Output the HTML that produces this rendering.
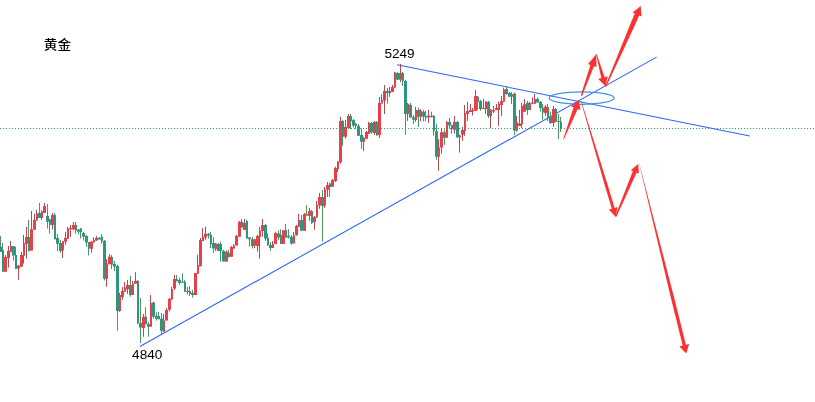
<!DOCTYPE html>
<html><head><meta charset="utf-8"><title>黄金</title>
<style>html,body{margin:0;padding:0;background:#fff;}body{width:815px;height:402px;overflow:hidden;}svg{display:block;}</style>
</head><body>
<svg width="815" height="402" viewBox="0 0 815 402">
<rect width="815" height="402" fill="#fff"/>
<g stroke="#2962ff" stroke-width="1.05" stroke-linecap="butt"><line x1="139.9" y1="346.5" x2="656.6" y2="57.1"/><line x1="397" y1="64.7" x2="749.7" y2="136.1"/></g>
<path d="M5.5 255.0V271.7M8.5 246.0V267.6M10.5 241.0V252.0M18.5 265.0V279.8M21.5 251.8V266.7M23.5 235.0V263.6M26.5 227.0V258.6M31.5 211.0V250.5M34.5 213.7V229.8M36.5 209.9V220.5M41.5 210.2V219.9M44.5 203.0V213.0M52.5 213.0V229.6M62.5 241.0V258.0M65.5 232.0V244.7M67.5 227.0V238.7M70.5 224.9V236.8M73.5 222.0V229.6M91.5 241.0V252.7M93.5 237.2V242.5M96.5 236.0V240.6M106.5 259.2V286.8M109.5 254.2V264.2M119.5 293.0V311.8M122.5 287.0V299.8M124.5 282.0V291.7M127.5 280.0V293.9M132.5 281.0V294.9M135.5 272.2V283.7M143.5 314.0V336.7M150.5 295.0V326.7M163.5 313.9V331.7M166.5 308.0V320.5M169.5 298.0V311.4M171.5 287.0V299.6M174.5 275.0V290.0M187.5 287.0V294.2M195.5 272.9V294.9M197.5 254.8V273.7M200.5 238.0V266.2M202.5 228.0V240.9M205.5 226.8V239.9M215.5 243.0V251.0M226.5 250.4V261.6M231.5 246.0V256.7M233.5 244.2V248.6M236.5 234.9V245.5M239.5 221.0V236.8M244.5 219.0V229.9M254.5 239.0V248.0M257.5 234.9V251.7M259.5 226.8V258.8M262.5 219.0V236.8M272.5 241.0V248.0M275.5 231.8V243.9M283.5 230.2V243.9M293.5 232.0V243.5M296.5 225.0V235.8M298.5 213.9V226.7M304.5 213.0V230.8M309.5 207.8V220.9M314.5 216.0V229.8M316.5 201.0V217.6M319.5 192.9V208.7M324.5 187.0V207.8M327.5 182.0V197.0M332.5 179.0V186.7M335.5 166.8V182.0M337.5 161.0V172.0M340.5 116.8V163.7M345.5 119.9V138.8M348.5 114.0V128.0M363.5 137.0V151.0M366.5 131.0V138.8M368.5 122.0V134.0M374.5 120.9V135.0M379.5 97.0V138.0M381.5 94.2V103.5M384.5 84.9V114.0M389.5 87.0V96.7M392.5 84.9V92.0M394.5 71.8V87.6M400.5 64.0V82.0M407.5 103.0V120.9M415.5 106.9V121.8M420.5 109.0V121.3M428.5 109.9V122.9M438.5 139.3V170.8M441.5 127.9V153.6M446.5 121.0V137.7M454.5 116.0V133.5M459.5 134.7V152.6M462.5 127.0V140.9M464.5 104.9V135.9M467.5 101.8V121.0M470.5 103.9V112.0M472.5 108.0V115.5M475.5 90.0V110.9M483.5 98.9V109.0M485.5 100.9V113.9M490.5 109.0V127.9M493.5 105.9V113.0M496.5 103.9V110.0M498.5 101.8V125.8M501.5 96.0V115.8M503.5 87.7V101.8M511.5 92.2V103.9M516.5 116.0V131.6M519.5 109.9V126.0M521.5 103.0V127.9M524.5 98.9V111.7M529.5 102.0V109.9M532.5 97.4V103.7M534.5 94.0V103.7M545.5 104.9V115.8M553.5 105.9V126.7" stroke="#b04a55" stroke-width="1.0" fill="none"/>
<path d="M0.5 236.0V252.0M2.5 243.0V271.7M13.5 246.0V260.5M15.5 247.0V269.0M28.5 219.9V251.2M39.5 203.0V218.0M47.5 204.0V228.6M49.5 219.0V233.6M54.5 213.0V239.4M57.5 234.0V251.0M60.5 240.0V252.7M75.5 222.0V233.6M78.5 229.0V234.5M80.5 228.0V238.5M83.5 232.0V240.6M86.5 234.8V246.8M88.5 242.0V255.5M99.5 237.0V239.4M101.5 234.0V243.7M104.5 239.9V280.5M111.5 255.0V269.0M114.5 261.0V270.8M117.5 264.8V330.8M130.5 276.0V296.7M137.5 279.9V323.6M140.5 298.0V342.9M145.5 307.2V324.3M148.5 322.0V336.7M153.5 301.7V318.7M156.5 312.4V320.5M158.5 311.8V319.3M161.5 313.0V334.2M176.5 275.0V281.2M179.5 277.8V284.9M182.5 273.7V282.8M184.5 279.9V291.7M189.5 286.0V296.0M192.5 289.9V297.6M208.5 233.0V238.6M210.5 231.8V248.0M213.5 237.0V252.9M218.5 243.0V251.0M220.5 241.7V261.6M223.5 249.8V261.6M228.5 249.8V257.3M241.5 219.0V227.4M246.5 220.0V238.6M249.5 237.0V246.7M252.5 237.0V248.6M265.5 224.0V240.9M267.5 233.4V245.5M270.5 242.0V250.8M278.5 230.5V239.9M280.5 229.3V243.9M285.5 224.0V237.4M288.5 229.3V238.6M291.5 235.0V244.8M301.5 215.0V230.8M306.5 205.0V215.5M311.5 209.9V223.9M322.5 190.0V241.6M329.5 182.6V197.0M342.5 119.9V145.8M350.5 114.0V129.0M353.5 119.0V127.4M355.5 123.0V129.0M358.5 124.0V135.8M361.5 128.6V148.8M371.5 122.0V133.9M376.5 121.0V135.5M387.5 88.0V103.5M397.5 71.8V79.7M402.5 71.8V85.9M405.5 80.0V134.9M410.5 102.9V118.0M413.5 115.0V123.9M418.5 107.7V127.0M423.5 109.9V121.3M425.5 110.9V121.0M431.5 111.7V117.6M433.5 115.0V135.6M436.5 123.8V159.8M444.5 129.8V144.9M449.5 118.0V128.8M451.5 124.8V133.8M457.5 121.0V138.0M477.5 96.0V109.9M480.5 100.0V110.9M488.5 100.9V118.0M506.5 86.2V95.0M509.5 92.0V96.8M514.5 92.7V135.0M527.5 100.9V114.9M537.5 97.4V102.4M540.5 100.9V111.7M542.5 103.9V119.8M547.5 103.9V121.0M550.5 111.7V123.8M555.5 108.0V121.7M558.5 113.9V139.0M560.5 117.0V132.0" stroke="#4f9560" stroke-width="1.0" fill="none"/>
<path d="M4 257.0H7V271.7H4zM7 251.0H10V258.0H7zM10 246.0H12V252.0H10zM17 265.5H20V268.6H17zM20 255.0H23V266.7H20zM23 243.0H25V255.8H23zM25 237.0H28V243.7H25zM30 229.2H33V250.5H30zM33 219.9H36V229.8H33zM36 213.4H38V220.5H36zM41 211.2H43V218.0H41zM43 206.0H46V213.0H43zM51 214.9H54V224.9H51zM62 241.0H64V250.5H62zM64 238.0H67V241.8H64zM67 228.6H69V238.7H67zM69 228.0H72V229.2H69zM72 224.9H75V229.6H72zM90 241.8H93V248.7H90zM93 240.0H95V242.5H93zM95 238.0H98V240.6H95zM106 263.6H108V278.7H106zM108 256.7H111V264.2H108zM119 294.9H121V310.9H119zM121 291.0H124V297.0H121zM124 287.4H126V291.7H124zM126 284.9H129V289.3H126zM132 283.7H134V294.9H132zM134 280.9H137V283.7H134zM142 316.8H145V328.0H142zM150 303.0H152V326.7H150zM163 320.5H165V331.7H163zM165 310.0H168V320.5H165zM168 298.8H171V309.7H168zM171 288.9H173V299.6H171zM173 278.9H176V288.6H173zM186 290.9H189V292.0H186zM194 273.0H197V294.9H194zM197 265.0H199V273.7H197zM199 239.9H202V266.2H199zM202 236.8H204V240.9H202zM204 233.7H207V237.4H204zM215 243.4H217V249.2H215zM225 251.7H228V261.6H225zM230 247.0H233V256.7H230zM233 245.5H235V248.6H233zM235 235.9H238V245.5H235zM238 221.8H241V236.8H238zM243 223.0H246V229.9H243zM254 239.3H256V245.5H254zM256 236.0H259V246.0H256zM259 230.5H261V236.8H259zM261 225.0H264V230.9H261zM272 243.9H274V248.0H272zM274 233.0H277V243.9H274zM282 230.2H285V243.9H282zM293 235.0H295V243.5H293zM295 226.0H298V235.0H295zM298 219.9H300V226.7H298zM303 213.9H306V230.8H303zM308 210.9H311V215.9H308zM313 217.0H316V222.0H313zM316 205.0H318V217.6H316zM318 197.0H321V205.6H318zM324 189.5H326V205.6H324zM326 185.0H329V189.8H326zM331 180.0H334V186.7H331zM334 168.0H337V181.0H334zM337 161.4H339V169.3H337zM339 120.9H342V162.4H339zM344 127.0H347V136.7H344zM347 116.0H350V128.0H347zM363 138.0H365V141.7H363zM365 132.0H368V138.8H365zM368 123.0H370V134.0H368zM373 122.0H376V133.0H373zM378 102.9H381V134.9H378zM381 100.0H383V103.5H381zM383 91.0H386V100.4H383zM389 91.0H391V93.0H389zM391 87.0H394V92.0H391zM394 72.4H396V87.6H394zM399 73.0H402V79.7H399zM407 103.8H409V114.0H407zM415 110.0H417V119.9H415zM420 111.0H422V116.7H420zM427 115.8H430V117.6H427zM438 147.4H440V156.7H438zM440 132.2H443V147.6H440zM446 122.0H448V137.7H446zM453 122.0H456V129.8H453zM459 135.6H461V137.4H459zM461 130.0H464V134.7H461zM464 113.0H466V131.0H464zM466 110.9H469V113.9H466zM469 109.9H472V112.0H469zM472 109.9H474V111.4H472zM474 96.0H477V110.9H474zM482 108.0H485V109.0H482zM485 101.8H487V109.0H485zM490 110.0H492V116.0H490zM492 110.0H495V111.4H492zM495 108.0H498V110.0H495zM498 103.7H500V109.9H498zM500 100.9H503V104.9H500zM503 89.4H505V101.8H503zM511 94.3H513V96.8H511zM516 122.3H518V130.8H516zM518 123.6H521V126.0H518zM521 106.0H523V124.2H521zM523 104.3H526V111.7H523zM529 103.0H531V109.9H529zM531 102.4H534V103.7H531zM534 98.9H536V103.7H534zM544 106.8H547V113.0H544zM552 108.9H555V122.9H552z" fill="#e5414a"/>
<path d="M0 247.0H2V252.0H0zM2 250.0H4V271.7H2zM12 246.0H15V255.5H12zM15 255.0H17V269.0H15zM28 237.0H30V251.2H28zM38 213.0H41V218.0H38zM46 216.0H49V221.7H46zM49 219.3H51V224.9H49zM54 214.9H56V239.2H54zM56 238.0H59V243.7H56zM59 243.0H62V251.0H59zM75 224.9H77V230.4H75zM77 229.6H80V231.7H77zM80 228.6H82V232.3H80zM82 233.0H85V236.7H82zM85 236.0H88V242.5H85zM88 242.0H90V248.7H88zM98 237.7H101V239.4H98zM101 236.8H103V241.2H101zM103 240.9H106V278.7H103zM111 257.0H113V264.8H111zM113 264.0H116V266.7H113zM116 266.0H119V310.9H116zM129 284.9H132V294.9H129zM137 280.9H139V323.6H137zM139 323.0H142V327.6H139zM145 316.8H147V324.3H145zM147 323.9H150V326.7H147zM152 302.5H155V316.8H152zM155 315.9H158V318.7H155zM158 316.0H160V319.3H158zM160 318.7H163V330.8H160zM176 279.3H178V281.2H176zM178 279.9H181V283.0H178zM181 281.8H184V282.8H181zM184 281.8H186V291.7H184zM189 291.0H191V293.9H189zM191 293.0H194V294.9H191zM207 233.7H210V235.5H207zM210 234.7H212V243.9H210zM212 243.0H215V248.6H212zM217 243.9H220V251.0H217zM220 243.9H222V251.0H220zM222 251.0H225V261.6H222zM228 252.9H230V257.3H228zM241 221.8H243V227.4H241zM246 221.0H248V238.6H246zM248 237.4H251V239.3H248zM251 239.3H254V246.0H251zM264 225.0H267V238.6H264zM267 238.0H269V245.5H267zM269 244.9H272V248.0H269zM277 233.4H280V237.6H277zM280 234.9H282V243.9H280zM285 229.9H287V237.4H285zM287 236.0H290V237.4H287zM290 237.0H293V243.5H290zM300 219.9H303V230.8H300zM306 213.7H308V215.5H306zM311 210.9H313V223.0H311zM321 197.0H324V206.0H321zM329 183.6H331V187.0H329zM342 120.9H344V136.7H342zM350 116.0H352V120.9H350zM352 119.9H355V125.5H352zM355 124.0H357V126.0H355zM357 125.9H360V135.8H357zM360 134.9H363V141.7H360zM370 123.0H373V132.6H370zM376 122.0H378V135.5H376zM386 91.0H389V93.0H386zM396 73.0H399V79.7H396zM402 73.0H404V81.0H402zM404 81.0H407V114.0H404zM409 105.0H412V117.4H409zM412 117.2H415V119.7H412zM417 110.0H420V116.8H417zM422 111.7H425V116.7H422zM425 116.0H427V117.6H425zM430 115.8H433V117.0H430zM433 116.0H435V131.2H433zM435 131.2H438V156.7H435zM443 132.2H446V137.7H443zM448 122.0H451V125.4H448zM451 125.0H453V129.0H451zM456 122.0H459V137.2H456zM477 96.8H479V101.8H477zM479 101.0H482V109.0H479zM487 101.8H490V116.0H487zM505 89.0H508V94.0H505zM508 93.0H511V96.8H508zM513 93.5H516V130.4H513zM526 103.0H529V109.9H526zM536 98.9H539V102.4H536zM539 101.8H542V108.0H539zM542 107.4H544V112.4H542zM547 107.0H549V118.0H547zM549 116.7H552V122.9H549zM555 108.9H557V121.7H555zM557 121.0H560V122.0H557zM560 121.7H562V128.8H560z" fill="#2f967d"/>
<line x1="0" y1="128.5" x2="815" y2="128.5" stroke="#3a957c" stroke-width="1.2" stroke-dasharray="1.1 1.9"/>
<ellipse cx="581.6" cy="98.1" rx="32.5" ry="6.2" fill="none" stroke="#3f95ea" stroke-width="1.25"/>
<g fill="#fa3232"><polygon points="564.0,139.1 577.7,108.9 577.7,108.9 580.4,109.9 578.8,99.9 570.9,106.3 573.6,107.3 573.6,107.3 563.2,138.9"/><polygon points="582.0,95.9 594.0,66.2 594.0,66.2 596.4,67.1 596.3,54.2 588.0,64.1 590.4,64.9 590.4,64.9 580.8,95.5"/><polygon points="596.1,54.3 601.3,78.1 601.3,78.1 598.3,79.0 605.4,86.3 607.7,76.3 604.6,77.2 604.6,77.2 596.7,54.1"/><polygon points="606.1,86.9 635.9,23.1 639.2,15.4 641.5,16.4 640.7,6.0 632.6,12.5 634.8,13.5 631.5,21.2 605.1,86.5"/><polygon points="580.9,101.3 604.6,184.8 611.8,208.8 608.9,209.7 615.7,216.7 617.5,207.1 614.6,207.9 607.4,183.9 581.3,101.1"/><polygon points="616.3,216.9 636.6,172.7 636.6,172.7 638.9,173.6 638.2,163.9 630.7,170.2 632.9,171.1 632.9,171.1 615.1,216.5"/><polygon points="639.1,163.5 671.5,300.6 682.7,345.5 679.4,346.4 686.3,353.4 689.1,343.9 685.9,344.8 674.7,299.8 639.3,163.5"/></g>
<g font-family="'Liberation Sans', 'Noto Sans CJK SC', sans-serif" fill="#000">
<text transform="translate(43.7,49.1) scale(1,0.93)" font-size="13.7" font-weight="500">黄金</text>
<text x="384.4" y="58" font-size="13.6">5249</text>
<text x="132.1" y="358.8" font-size="13.6">4840</text>
</g></svg>
</body></html>
